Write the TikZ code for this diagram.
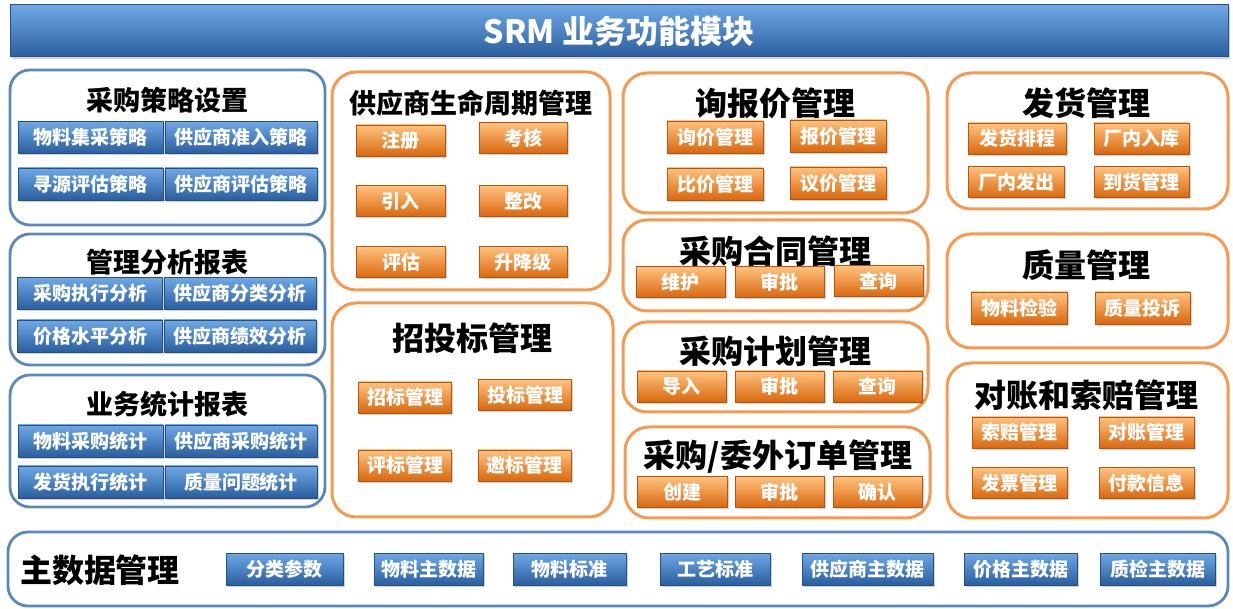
\documentclass[tikz,border=0pt]{standalone}
\usepackage{fontspec}
\setmainfont{Noto Sans CJK SC}
\usetikzlibrary{shadows}
\definecolor{bluetop}{HTML}{6FA8E6}
\definecolor{bluemid}{HTML}{4283CC}
\definecolor{bluebot}{HTML}{2A5E9E}
\definecolor{blueedge}{HTML}{24508A}
\definecolor{boxblue}{HTML}{5B87BF}
\definecolor{orgtop}{HTML}{FFC27E}
\definecolor{orgmid}{HTML}{F7932F}
\definecolor{orgbot}{HTML}{D9680E}
\definecolor{orgedge}{HTML}{B4560C}
\definecolor{boxorange}{HTML}{F59A50}
\tikzset{
  bluebtn/.style={draw=blueedge, line width=0.4pt, top color=bluetop, middle color=bluemid,
    bottom color=bluebot, text=white, inner sep=0pt, minimum height=16pt,
    font=\bfseries\fontsize{9.5}{10}\selectfont,
    drop shadow={shadow xshift=0.8pt, shadow yshift=-0.8pt, opacity=0.35}},
  orgbtn/.style={draw=orgedge, line width=0.4pt, top color=orgtop, middle color=orgmid,
    bottom color=orgbot, text=white, inner sep=0pt, minimum height=15.5pt,
    font=\bfseries\fontsize{9.5}{10}\selectfont,
    drop shadow={shadow xshift=0.8pt, shadow yshift=-0.8pt, opacity=0.35}},
  bluebox/.style={draw=boxblue, line width=1.4pt, rounded corners=10pt},
  orgbox/.style={draw=boxorange, line width=1.5pt, rounded corners=12pt},
  smalltitle/.style={font=\bfseries\fontsize{13.5}{14}\selectfont},
  bigtitle/.style={font=\bfseries\fontsize{16}{17}\selectfont}
}
\begin{document}
\begin{tikzpicture}[x=0.5pt, y=-0.5pt]
  \useasboundingbox (0,0) rectangle (1233,609);
  % banner
  \node[draw=blueedge, line width=0.5pt, top color=bluetop, middle color=bluemid, bottom color=bluebot,
    minimum width=609pt, minimum height=26pt, inner sep=0pt, text=white,
    font=\bfseries\fontsize{16}{17}\selectfont,
    drop shadow={shadow xshift=0.8pt, shadow yshift=-0.8pt, opacity=0.35}]
    (banner) at (619,31) {SRM 业务功能模块};

  % left column
  \draw[bluebox] (10,70) rectangle (325,225);
  \draw[bluebox] (10,234) rectangle (325,365);
  \draw[bluebox] (10,375) rectangle (325,507);
  \node[smalltitle] (strategy) at (167,100) {采购策略设置};
  \node[bluebtn, minimum width=72.5pt] (s1) at (90.5,137.5) {物料集采策略};
  \node[bluebtn, minimum width=76pt] (s2) at (241,137.5) {供应商准入策略};
  \node[bluebtn, minimum width=72.5pt] (s3) at (90.5,184) {寻源评估策略};
  \node[bluebtn, minimum width=76pt] (s4) at (241,184) {供应商评估策略};
  \node[smalltitle] (analysis) at (167,262) {管理分析报表};
  \node[bluebtn, minimum width=72.5pt] (a1) at (90,293.5) {采购执行分析};
  \node[bluebtn, minimum width=76pt] (a2) at (240,293.5) {供应商分类分析};
  \node[bluebtn, minimum width=72.5pt] (a3) at (90,336) {价格水平分析};
  \node[bluebtn, minimum width=76pt] (a4) at (240,336) {供应商绩效分析};
  \node[smalltitle] (stats) at (167,404) {业务统计报表};
  \node[bluebtn, minimum width=72.5pt] (t1) at (90.5,441) {物料采购统计};
  \node[bluebtn, minimum width=76pt] (t2) at (241,441) {供应商采购统计};
  \node[bluebtn, minimum width=72.5pt] (t3) at (90.5,482) {发货执行统计};
  \node[bluebtn, minimum width=76pt] (t4) at (241,482) {质量问题统计};

  % second column
  \draw[orgbox] (332,72) rectangle (610,290);
  \draw[orgbox] (332,303) rectangle (613,517);
  \node[smalltitle] (lifecycle) at (471,103) {供应商生命周期管理};
  \node[orgbtn, minimum width=44.5pt] (l1) at (400.5,140.5) {注册};
  \node[orgbtn, minimum width=44pt] (l2) at (523,138) {考核};
  \node[orgbtn, minimum width=44.5pt] (l3) at (400.5,201) {引入};
  \node[orgbtn, minimum width=44pt] (l4) at (523,201) {整改};
  \node[orgbtn, minimum width=44.5pt] (l5) at (401,262) {评估};
  \node[orgbtn, minimum width=44pt] (l6) at (523,262) {升降级};
  \node[bigtitle] (bidding) at (472,338) {招投标管理};
  \node[orgbtn, minimum width=46.5pt] (b1) at (405,397.5) {招标管理};
  \node[orgbtn, minimum width=46.5pt] (b2) at (525,395) {投标管理};
  \node[orgbtn, minimum width=46.5pt] (b3) at (405,465.5) {评标管理};
  \node[orgbtn, minimum width=46.5pt] (b4) at (524.5,465.5) {邀标管理};

  % third column
  \draw[orgbox] (623,73) rectangle (928,213);
  \draw[orgbox] (623,220) rectangle (928,311);
  \draw[orgbox] (623,322) rectangle (928,412);
  \draw[orgbox] (625,427) rectangle (930,518);
  \node[bigtitle] (quote) at (775,103) {询报价管理};
  \node[orgbtn, minimum width=48pt, minimum height=16pt] (q1) at (715,137) {询价管理};
  \node[orgbtn, minimum width=48pt, minimum height=16pt] (q2) at (838,136) {报价管理};
  \node[orgbtn, minimum width=48pt, minimum height=16pt] (q3) at (715,184) {比价管理};
  \node[orgbtn, minimum width=48pt, minimum height=16pt] (q4) at (838,183) {议价管理};
  \node[bigtitle] (contract) at (775,251) {采购合同管理};
  \node[orgbtn, minimum width=44.5pt] (c1) at (680.5,282) {维护};
  \node[orgbtn, minimum width=44.5pt] (c2) at (779.5,282) {审批};
  \node[orgbtn, minimum width=44.5pt] (c3) at (878.5,281) {查询};
  \node[bigtitle] (plan) at (775,351) {采购计划管理};
  \node[orgbtn, minimum width=44.5pt] (p1) at (681.5,386.5) {导入};
  \node[orgbtn, minimum width=44.5pt] (p2) at (779.5,386.5) {审批};
  \node[orgbtn, minimum width=44.5pt] (p3) at (877.5,386.5) {查询};
  \node[bigtitle] (order) at (778,457) {采购/委外订单管理};
  \node[orgbtn, minimum width=45pt] (o1) at (682,492) {创建};
  \node[orgbtn, minimum width=44.5pt] (o2) at (779.5,492) {审批};
  \node[orgbtn, minimum width=44.5pt] (o3) at (877.5,492) {确认};

  % fourth column
  \draw[orgbox] (947,73) rectangle (1228,209);
  \draw[orgbox] (947,234) rectangle (1228,348);
  \draw[orgbox] (947,363) rectangle (1228,518);
  \node[bigtitle] (delivery) at (1086,103) {发货管理};
  \node[orgbtn, minimum width=49pt] (d1) at (1017,138.5) {发货排程};
  \node[orgbtn, minimum width=47.5pt] (d2) at (1141.5,138.5) {厂内入库};
  \node[orgbtn, minimum width=48pt] (d3) at (1016,182) {厂内发出};
  \node[orgbtn, minimum width=47.5pt] (d4) at (1141.5,182) {到货管理};
  \node[bigtitle] (quality) at (1086,265) {质量管理};
  \node[orgbtn, minimum width=48pt, minimum height=16pt] (k1) at (1019,308) {物料检验};
  \node[orgbtn, minimum width=47.5pt, minimum height=16pt] (k2) at (1142.5,308) {质量投诉};
  \node[bigtitle] (claim) at (1086,395) {对账和索赔管理};
  \node[orgbtn, minimum width=47.5pt] (r1) at (1019.5,432.5) {索赔管理};
  \node[orgbtn, minimum width=47.5pt] (r2) at (1146.5,432.5) {对账管理};
  \node[orgbtn, minimum width=47.5pt] (r3) at (1019.5,483) {发票管理};
  \node[orgbtn, minimum width=47.5pt] (r4) at (1146.5,483) {付款信息};

  % master data
  \draw[bluebox] (8,532) rectangle (1228,606);
  \node[bigtitle] (master) at (100,570) {主数据管理};
  \node[bluebtn, minimum width=58.5pt] (m1) at (284.5,569) {分类参数};
  \node[bluebtn, minimum width=54.5pt] (m2) at (428.5,569) {物料主数据};
  \node[bluebtn, minimum width=56.5pt] (m3) at (569.5,569) {物料标准};
  \node[bluebtn, minimum width=55pt] (m4) at (715,569) {工艺标准};
  \node[bluebtn, minimum width=65.5pt] (m5) at (867.5,569) {供应商主数据};
  \node[bluebtn, minimum width=56.5pt] (m6) at (1020.5,569) {价格主数据};
  \node[bluebtn, minimum width=57.5pt] (m7) at (1157.5,569) {质检主数据};
\end{tikzpicture}
\end{document}
